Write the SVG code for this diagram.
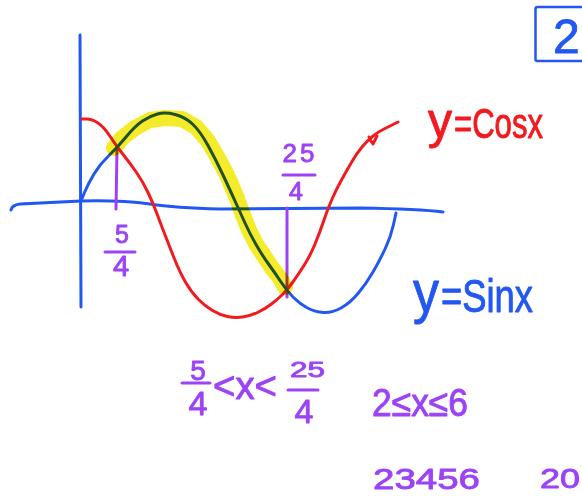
<svg xmlns="http://www.w3.org/2000/svg" width="582" height="496" viewBox="0 0 582 496">
  <style>
    .ln{fill:none;stroke-linecap:round;stroke-linejoin:round}
    .blue{stroke:#2257f2}
    .red{stroke:#f11a1f}
    .pur{stroke:#9c43f5}
    .t{font-family:"Liberation Sans",Arial,sans-serif;stroke-linejoin:round}
    .tp{fill:#9c43f5;stroke:#9c43f5;stroke-width:0.9}
    .tb{fill:#2257f2;stroke:#2257f2;stroke-width:0.9}
    .tr{fill:#f11a1f;stroke:#f11a1f;stroke-width:0.9}
    .hl{fill:none;stroke:#f4ec2a;stroke-width:16;stroke-linecap:round;stroke-linejoin:round;mix-blend-mode:multiply}
  </style>
  <rect x="0" y="0" width="582" height="496" fill="#ffffff"/>

  <g id="axes">
    <path class="ln blue" stroke-width="3" d="M80,35 L81,307"/>
    <path class="ln blue" stroke-width="3" d="M11,210 Q12,205 20,204 L81,201 Q120,200 150,204 Q175,208 220,209 L360,208 Q420,209 443,212"/>
  </g>

  <g id="guides">
    <path class="ln pur" stroke-width="3" d="M117,148 L116,209"/>
    <path class="ln pur" stroke-width="3" d="M287,208 L287,297"/>
  </g>

  <g id="cos-curve">
    <path class="ln red" stroke-width="3" d="M82,119 L87,119 Q92,119 98,123 Q104,127 110.5,137 Q117,147 123.5,155 Q130,163 136.5,172.5 Q143,182 148,192.5 Q153,203 156.5,212.5 Q160,222 163.5,231 Q167,240 173.5,256.5 Q180,273 186,283 Q192,293 198.5,299.5 Q205,306 212.5,310.5 Q220,315 227.5,316.5 Q235,318 242.5,317 Q250,316 257.5,312.5 Q265,309 271.5,304 Q278,299 282.5,294.5 Q287,290 292.5,282.5 Q298,275 304,265.5 Q310,256 315,244 Q320,232 324,220 Q328,208 332.5,198 Q337,188 342,179 Q347,170 352,161.5 Q357,153 362,147 Q367,141 372.5,136.5 Q378,132 384,129 Q390,126 398,122"/>
    <path class="ln red" stroke-width="3" d="M369,137 Q371,142 373,144 L377,136"/>
  </g>

  <g id="sin-curve">
    <path class="ln blue" stroke-width="3" d="M81,201 L84.5,192.5 Q88,184 94,174 Q100,164 108.5,156 Q117,148 126,137 Q135,126 142.5,121 Q150,116 157.5,114 Q165,112 175,114.5 Q185,117 192.5,124 Q200,131 208,145.5 Q216,160 223,175 Q230,190 235,201 Q240,212 245,223 Q250,234 256,244.5 Q262,255 268.5,264 Q275,273 281,282 Q287,291 293.5,297.5 Q300,304 307.5,308 Q315,312 323.5,312.5 Q332,313 341,308 Q350,303 358,293.5 Q366,284 373,272 Q380,260 385.5,248 Q391,236 393.5,224.5 L396,213"/>
  </g>

  <g id="highlight">
    <polyline class="hl" points="114,148 122,138 135,128 150,120 165,118 182,119 196,127 208,141 218,158 227,175 236,196 243,215 249,230 256,244 264,256 272,268 280,278 285,287"/>
  </g>

  <g id="graph-labels">
    <text class="t tp" x="122" y="243" font-size="25" text-anchor="middle">5</text>
    <path class="ln pur" stroke-width="3" d="M105,252 L135,252"/>
    <text class="t tp" x="121" y="276" font-size="29" text-anchor="middle">4</text>

    <text class="t tp" x="300" y="162" font-size="26" text-anchor="middle" letter-spacing="3">25</text>
    <path class="ln pur" stroke-width="3" d="M283,175 L315,175"/>
    <text class="t tp" x="296" y="200" font-size="25" text-anchor="middle">4</text>

    <text class="t tr" x="428" y="138" font-size="50" textLength="24" lengthAdjust="spacingAndGlyphs">y</text>
    <text class="t tr" x="454" y="138" font-size="42" textLength="89" lengthAdjust="spacingAndGlyphs">=Cosx</text>
    <text class="t tb" x="413" y="312" font-size="60" textLength="26" lengthAdjust="spacingAndGlyphs">y</text>
    <text class="t tb" x="441" y="312" font-size="46" textLength="92" lengthAdjust="spacingAndGlyphs">=Sinx</text>
  </g>

  <g id="problem-number">
    <rect x="535.5" y="7" width="60" height="54" rx="2" fill="none" stroke="#2257f2" stroke-width="2.5"/>
    <text class="t tb" x="553" y="53" font-size="48">2</text>
  </g>

  <g id="work">
    <text class="t tp" x="198" y="380" font-size="28" text-anchor="middle">5</text>
    <path class="ln pur" stroke-width="3" d="M182,383 L210,383"/>
    <text class="t tp" x="198" y="415" font-size="34" text-anchor="middle">4</text>
    <text class="t tp" x="213" y="399" font-size="38" textLength="64" lengthAdjust="spacingAndGlyphs">&lt;x&lt;</text>
    <text class="t tp" x="290" y="377" font-size="22" textLength="35" lengthAdjust="spacingAndGlyphs">25</text>
    <path class="ln pur" stroke-width="3" d="M288,390 L318,390"/>
    <text class="t tp" x="304" y="423" font-size="34" text-anchor="middle">4</text>

    <text class="t tp" x="372" y="416" font-size="38" textLength="96" lengthAdjust="spacingAndGlyphs">2≤x≤6</text>
    <text class="t tp" x="373" y="489" font-size="30" textLength="107" lengthAdjust="spacingAndGlyphs">23456</text>
    <text class="t tp" x="540" y="488" font-size="28" textLength="40" lengthAdjust="spacingAndGlyphs">20</text>
  </g>
</svg>
